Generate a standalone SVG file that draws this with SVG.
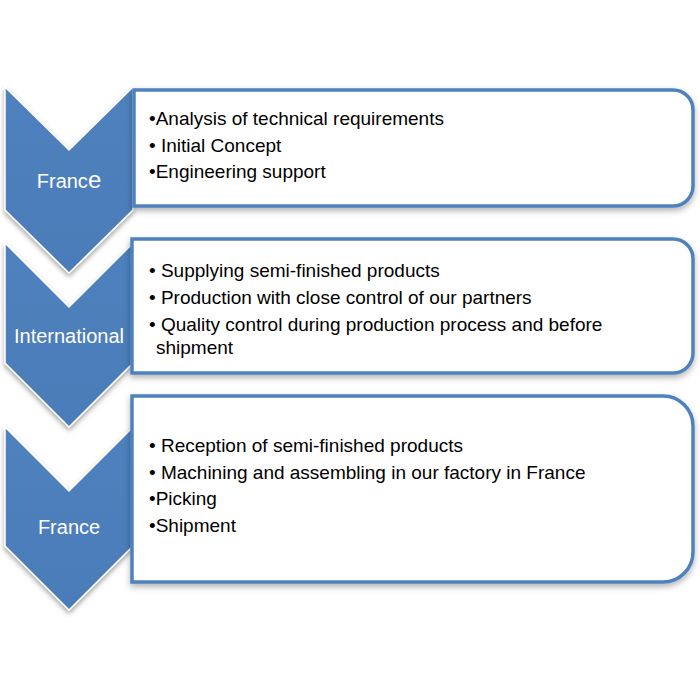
<svg xmlns="http://www.w3.org/2000/svg" width="700" height="700" viewBox="0 0 700 700">
<defs>
<filter id="sh" x="-10%" y="-10%" width="125%" height="125%">
<feDropShadow dx="0" dy="3" stdDeviation="2.5" flood-color="#000" flood-opacity="0.35"/>
</filter>
<filter id="bsh" x="-5%" y="-10%" width="112%" height="125%">
<feDropShadow dx="0" dy="3" stdDeviation="3" flood-color="#000" flood-opacity="0.3"/>
</filter>
<linearGradient id="cg" x1="0" y1="0" x2="0" y2="1">
<stop offset="0" stop-color="#4f81bd"/>
<stop offset="1" stop-color="#4a7cb8"/>
</linearGradient>
</defs>
<style>
.chev{fill:url(#cg);stroke:#ffffff;stroke-width:1.5;filter:url(#sh)}
.box{fill:#ffffff;stroke:#4f81bd;stroke-width:3.5;filter:url(#bsh)}
.lbl{font-family:"Liberation Sans",Arial,sans-serif;font-size:20px;fill:#ffffff;text-anchor:middle}
.txt{font-family:"Liberation Sans",Arial,sans-serif;font-size:19px;fill:#000000}
</style>
<rect width="700" height="700" fill="#ffffff"/>
<g id="connectors"></g>
<g id="step1">
<path class="chev" d="M5,87 L69,150 L133,87 L133,210 L69,273 L5,210 Z"/>
<path class="box" d="M134,90 H673 A20,20 0 0 1 693,110 V186 A20,20 0 0 1 673,206 H134 Z"/>
<text class="lbl" x="69" y="188">Franc<tspan font-size="24">e</tspan></text>
<text class="txt" x="149" y="125">•Analysis of technical requirements</text>
<text class="txt" x="149" y="152">• Initial Concept</text>
<text class="txt" x="149" y="178">•Engineering support</text>
</g>
<g id="step2">
<path class="chev" d="M5,243 L69,307 L133,243 L133,363 L69,427 L5,363 Z"/>
<path class="box" d="M132,239 H673 A20,20 0 0 1 693,259 V353 A20,20 0 0 1 673,373 H132 Z"/>
<text class="lbl" x="69" y="343">International</text>
<text class="txt" x="149" y="277">• Supplying semi-finished products</text>
<text class="txt" x="149" y="304">• Production with close control of our partners</text>
<text class="txt" x="149" y="331">• Quality control during production process and before</text>
<text class="txt" x="156" y="354">shipment</text>
</g>
<g id="step3">
<path class="chev" d="M5,427 L69,491 L133,427 L133,546 L69,610 L5,546 Z"/>
<path class="box" d="M132,396 H663 A30,30 0 0 1 693,426 V552 A30,30 0 0 1 663,582 H132 Z"/>
<text class="lbl" x="69" y="534">France</text>
<text class="txt" x="149" y="452">• Reception of semi-finished products</text>
<text class="txt" x="149" y="479">• Machining and assembling in our factory in France</text>
<text class="txt" x="149" y="505">•Picking</text>
<text class="txt" x="149" y="532">•Shipment</text>
</g>
</svg>
